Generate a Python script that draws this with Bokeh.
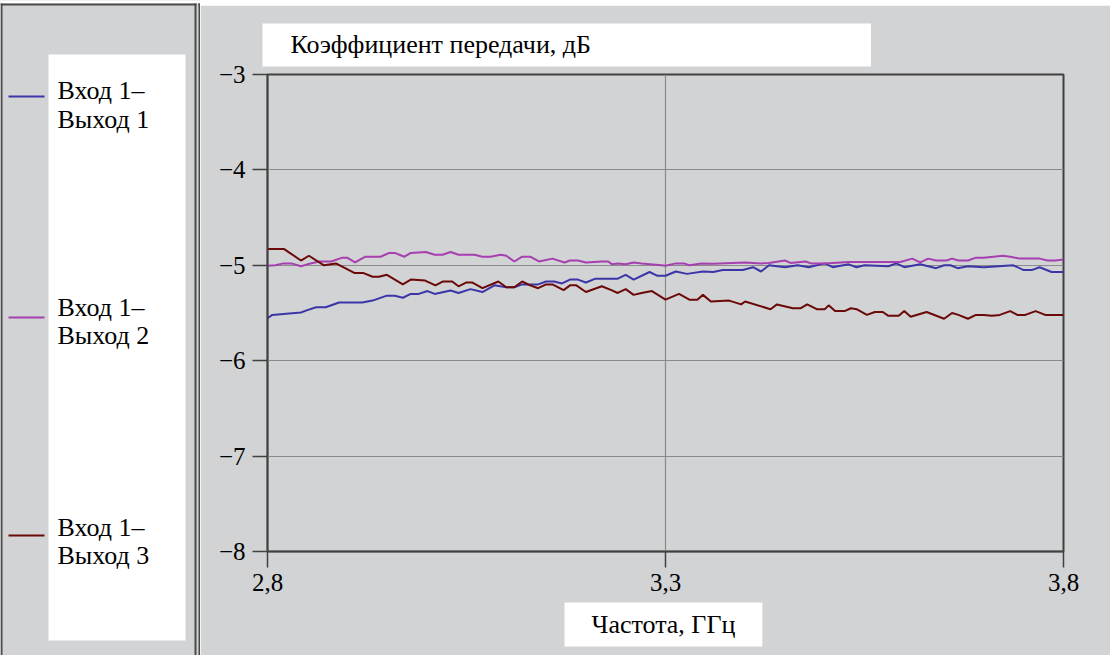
from bokeh.plotting import figure
from bokeh.layouts import row, column
from bokeh.models import Label, FixedTicker, CustomJSTickFormatter, Range1d
from bokeh.core.properties import value
from bokeh.embed import file_html
from bokeh.resources import INLINE

FONT = "Liberation Serif"
BG = "#d2d3d5"
DARK = "#404040"
PANEL = "#4a4a4a"

series_names = ["Вход 1–\nВыход 1", "Вход 1–\nВыход 2", "Вход 1–\nВыход 3"]
series_colors = ["#3b35a8", "#a63fb0", "#6b0808"]

x_ticks = [2.8, 3.3, 3.8]
y_ticks = [-8, -7, -6, -5, -4, -3]

freq_1 = [2.800, 2.806, 2.820, 2.842, 2.850, 2.861, 2.873, 2.890, 2.919, 2.932, 2.949, 2.960,
          2.970, 2.980, 2.990, 3.001, 3.010, 3.030, 3.040, 3.055, 3.070, 3.085, 3.100, 3.110,
          3.120, 3.140, 3.150, 3.160, 3.170, 3.180, 3.190, 3.200, 3.212, 3.240, 3.250, 3.260,
          3.280, 3.290, 3.300, 3.313, 3.327, 3.347, 3.360, 3.372, 3.397, 3.410, 3.420, 3.430,
          3.450, 3.466, 3.480, 3.500, 3.510, 3.530, 3.540, 3.550, 3.580, 3.590, 3.600, 3.620,
          3.640, 3.650, 3.658, 3.667, 3.680, 3.700, 3.737, 3.750, 3.760, 3.770, 3.785, 3.800]
gain_1 = [-5.555, -5.52, -5.51, -5.495, -5.47, -5.44, -5.44, -5.39, -5.39, -5.37, -5.32, -5.32,
          -5.34, -5.30, -5.30, -5.27, -5.30, -5.265, -5.29, -5.25, -5.28, -5.21, -5.23, -5.23,
          -5.20, -5.20, -5.17, -5.17, -5.19, -5.15, -5.15, -5.18, -5.14, -5.14, -5.10, -5.15,
          -5.07, -5.11, -5.11, -5.065, -5.09, -5.065, -5.07, -5.05, -5.05, -5.02, -5.065, -5.00,
          -5.02, -5.00, -5.02, -4.98, -5.02, -4.99, -5.02, -5.00, -5.01, -4.98, -5.02, -4.99,
          -5.03, -5.00, -5.00, -5.03, -5.01, -5.02, -5.00, -5.05, -5.05, -5.02, -5.07, -5.07]

freq_2 = [2.800, 2.810, 2.820, 2.830, 2.842, 2.850, 2.865, 2.880, 2.894, 2.900, 2.910, 2.923,
          2.942, 2.953, 2.960, 2.972, 2.980, 2.999, 3.010, 3.020, 3.030, 3.040, 3.060, 3.070,
          3.080, 3.093, 3.100, 3.110, 3.120, 3.130, 3.141, 3.158, 3.173, 3.180, 3.190, 3.200,
          3.220, 3.228, 3.233, 3.240, 3.250, 3.260, 3.270, 3.295, 3.300, 3.313, 3.323, 3.330,
          3.345, 3.360, 3.400, 3.420, 3.430, 3.450, 3.457, 3.476, 3.483, 3.500, 3.530, 3.595,
          3.610, 3.620, 3.630, 3.640, 3.653, 3.660, 3.668, 3.680, 3.690, 3.700, 3.724, 3.733,
          3.745, 3.770, 3.780, 3.790, 3.800]
gain_2 = [-5.005, -5.00, -4.98, -4.98, -5.01, -4.99, -4.96, -4.96, -4.92, -4.92, -4.97, -4.91,
          -4.91, -4.87, -4.87, -4.91, -4.87, -4.86, -4.89, -4.89, -4.86, -4.89, -4.89, -4.91,
          -4.91, -4.89, -4.90, -4.96, -4.91, -4.91, -4.96, -4.93, -4.97, -4.95, -4.95, -4.97,
          -4.96, -4.96, -4.99, -4.98, -4.99, -4.97, -4.98, -5.00, -5.005, -4.98, -4.98, -5.00,
          -4.98, -4.985, -4.97, -4.98, -4.975, -4.95, -4.975, -4.96, -4.98, -4.98, -4.965, -4.965,
          -4.93, -4.97, -4.93, -4.95, -4.95, -4.93, -4.95, -4.95, -4.92, -4.92, -4.90, -4.91,
          -4.93, -4.93, -4.95, -4.95, -4.94]

freq_3 = [2.800, 2.821, 2.842, 2.852, 2.871, 2.886, 2.909, 2.920, 2.932, 2.940, 2.950, 2.970,
          2.980, 2.998, 3.011, 3.020, 3.032, 3.040, 3.050, 3.057, 3.070, 3.090, 3.100, 3.110,
          3.120, 3.130, 3.140, 3.150, 3.158, 3.172, 3.180, 3.188, 3.200, 3.220, 3.232, 3.240,
          3.250, 3.260, 3.270, 3.283, 3.300, 3.317, 3.330, 3.340, 3.347, 3.357, 3.380, 3.395,
          3.400, 3.432, 3.440, 3.460, 3.470, 3.478, 3.490, 3.500, 3.505, 3.513, 3.525, 3.533,
          3.540, 3.553, 3.563, 3.573, 3.580, 3.593, 3.600, 3.608, 3.628, 3.650, 3.660, 3.668,
          3.680, 3.690, 3.700, 3.710, 3.720, 3.733, 3.742, 3.752, 3.765, 3.777, 3.800]
gain_3 = [-4.83, -4.83, -4.95, -4.90, -5.00, -4.98, -5.08, -5.08, -5.12, -5.12, -5.10, -5.20,
          -5.15, -5.16, -5.21, -5.17, -5.17, -5.22, -5.18, -5.18, -5.24, -5.17, -5.23, -5.23,
          -5.17, -5.21, -5.24, -5.20, -5.20, -5.26, -5.21, -5.21, -5.28, -5.22, -5.26, -5.29,
          -5.25, -5.31, -5.29, -5.27, -5.36, -5.30, -5.36, -5.36, -5.31, -5.38, -5.37, -5.41,
          -5.38, -5.46, -5.41, -5.45, -5.45, -5.41, -5.46, -5.46, -5.42, -5.48, -5.48, -5.45,
          -5.46, -5.52, -5.49, -5.49, -5.53, -5.53, -5.48, -5.54, -5.49, -5.56, -5.50, -5.52,
          -5.56, -5.52, -5.52, -5.53, -5.52, -5.48, -5.52, -5.52, -5.48, -5.52, -5.52]

y_title = "Коэффициент передачи, дБ"
x_title = "Частота, ГГц"


def pixel_figure(w, h):
    """A figure whose frame is its whole canvas, with 1 data unit = 1 pixel (y down)."""
    f = figure(width=w, height=h, x_range=Range1d(0, w), y_range=Range1d(h, 0),
               min_border=0, x_axis_type=None, y_axis_type=None, title=None,
               output_backend="svg", toolbar_location=None)
    f.grid.visible = False
    f.outline_line_color = None
    f.background_fill_color = BG
    f.border_fill_color = BG
    return f


# ---------------- left panel: legend ----------------
LW, H = 200, 655
lp = pixel_figure(LW, H)
lp.quad(left=[0], right=[LW], top=[0], bottom=[3], fill_color="white", line_color=None)
# panel borders: outer left, top, the double separator line
lp.quad(left=[0, 0, 194, 198, 198], right=[2, 196, 196, 200, 200],
        top=[3, 3, 3, 3, 3], bottom=[H, 5, H, H, 5],
        fill_color=PANEL, line_color=None)
# white legend box
lp.quad(left=[48], right=[185], top=[54], bottom=[640], fill_color="white", line_color=None)
# swatches and texts
swatch_y = [96, 317, 535]
text_y = [(90, 119), (307, 335), (527, 555)]
lp.quad(left=[8] * 3, right=[44] * 3, top=[y - 1 for y in swatch_y], bottom=[y + 1 for y in swatch_y],
        fill_color=series_colors, line_color=None)
tx, ty, tt = [], [], []
for name, (t1, t2) in zip(series_names, text_y):
    a, b = name.split("\n")
    tx += [57, 57]
    ty += [t1, t2]
    tt += [a, b]
lp.text(x=tx, y=ty, text=tt, text_font=value(FONT), text_font_size="26px",
        text_baseline="alphabetic", text_align="left", text_color="black")

# ---------------- strip above the right panel ----------------
RW = 1110 - LW
sp = pixel_figure(RW, 5)
sp.quad(left=[0], right=[RW], top=[0], bottom=[3], fill_color="white", line_color=None)
sp.quad(left=[0], right=[RW], top=[3], bottom=[5], fill_color=PANEL, line_color=None)

# ---------------- main plot ----------------
p = figure(frame_width=796, frame_height=477,
           min_border_left=267 - LW, min_border_right=47, min_border_top=69, min_border_bottom=104,
           x_range=(2.8, 3.8), y_range=(-8, -3), title=None,
           output_backend="svg", toolbar_location=None)

p.background_fill_color = BG
p.border_fill_color = BG
p.outline_line_color = DARK
p.outline_line_width = 2

p.xaxis.ticker = FixedTicker(ticks=x_ticks)
p.yaxis.ticker = FixedTicker(ticks=y_ticks)
p.xaxis.formatter = CustomJSTickFormatter(code="return tick.toFixed(1).replace('.', ',');")
p.yaxis.formatter = CustomJSTickFormatter(code="return (tick < 0 ? '\u2212' : '') + Math.abs(tick).toFixed(0);")
for ax in (p.xaxis, p.yaxis):
    ax.axis_line_color = DARK
    ax.axis_line_width = 1.5
    ax.major_tick_line_color = DARK
    ax.major_tick_line_width = 1.5
    ax.major_tick_in = 0
    ax.minor_tick_line_color = None
    ax.major_label_text_font = FONT
    ax.major_label_text_font_size = "25px"
    ax.major_label_text_color = "black"
p.xaxis.major_tick_out = 16
p.xaxis.major_label_standoff = 6
p.yaxis.major_tick_out = 15
p.yaxis.major_label_standoff = 7

p.xgrid.ticker = FixedTicker(ticks=x_ticks)
p.ygrid.ticker = FixedTicker(ticks=y_ticks)
p.grid.grid_line_color = "#8a8a8a"
p.grid.grid_line_width = 1.2

for fx, gy, c in zip([freq_1, freq_2, freq_3], [gain_1, gain_2, gain_3], series_colors):
    p.line(fx, gy, line_color=c, line_width=2)


def textbox(x0, y0, text, size, padding):
    return Label(x=x0, y=y0, x_units="canvas", y_units="canvas", text=text,
                 text_font=FONT, text_font_size=size, text_color="black",
                 text_align="left", text_baseline="top",
                 background_fill_color="white", background_fill_alpha=1,
                 padding=padding)


# axis titles in white boxes (side panels, so they are not clipped to the frame)
p.add_layout(textbox(262 - LW, 18, y_title, "26px",
                     dict(left=28, right=280, top=6, bottom=8)), "above")
p.add_layout(textbox(564 - LW, 597, x_title, "26px",
                     dict(left=27, right=27, top=7, bottom=8)), "below")

layout = row(lp, column(sp, p))
open("out.html", "w").write(file_html(layout, INLINE))
